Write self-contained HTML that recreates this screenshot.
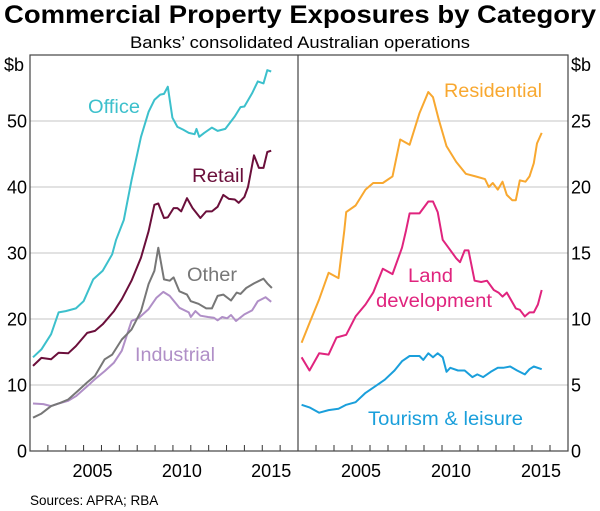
<!DOCTYPE html>
<html><head><meta charset="utf-8"><style>
body{margin:0;background:#fff;}
svg{display:block;font-family:"Liberation Sans",Arial,sans-serif;}
</style></head><body>
<svg id="chart" width="600" height="511" viewBox="0 0 600 511" xmlns="http://www.w3.org/2000/svg">
<text x="300" y="23" text-anchor="middle" font-size="25" font-weight="bold" fill="#000" textLength="592" lengthAdjust="spacingAndGlyphs">Commercial Property Exposures by Category</text>
<text x="300" y="48" text-anchor="middle" font-size="17" fill="#000" textLength="340" lengthAdjust="spacingAndGlyphs">Banks’ consolidated Australian operations</text>
<text x="30" y="505" font-size="13.5" fill="#000">Sources:  APRA; RBA</text>
<g id="grid"></g><g id="series"></g><g id="frame"></g><g id="labels"></g>
</svg>
<script>
const leftTicks=[0,10,20,30,40,50];
const rightTicks=[0,5,10,15,20,25];
const yearLabels=[2005,2010,2015];
const officeYears=[2002.17,2002.64,2003.18,2003.6,2004.0,2004.57,2005.0,2005.54,2006.07,2006.6,2006.82,2007.25,2007.68,2008.21,2008.64,2008.96,2009.29,2009.5,2009.71,2009.97,2010.25,2010.57,2010.89,2011.21,2011.32,2011.47,2011.75,2012.18,2012.5,2012.93,2013.46,2013.78,2014.0,2014.43,2014.75,2015.07,2015.28,2015.5];
const officeValues=[14.2,15.4,17.7,21,21.2,21.6,22.7,26,27.3,29.8,32,35,41,47.6,51.4,53.2,54,54.1,55.2,50.5,49.1,48.7,48.2,48,48.8,47.6,48.2,49,48.5,48.8,50.7,52.1,52.2,54.2,56,55.7,57.7,57.5];
const retailYears=[2002.17,2002.64,2003.18,2003.6,2004.14,2004.57,2005.2,2005.64,2006.07,2006.7,2007.14,2007.68,2008.21,2008.64,2008.96,2009.18,2009.5,2009.71,2010.04,2010.25,2010.46,2010.79,2011.1,2011.54,2011.86,2012.18,2012.5,2012.82,2013.14,2013.46,2013.68,2014.0,2014.2,2014.54,2014.81,2015.07,2015.28,2015.5];
const retailValues=[12.9,14.1,13.9,14.9,14.8,15.9,17.9,18.2,19.2,21.2,23,25.8,29.3,33.3,37.3,37.5,35.3,35.4,36.8,36.8,36.3,38.3,36.8,35.3,36.3,36.3,37,38.8,38.2,38.1,37.6,38.5,40,44.8,42.9,42.9,45.3,45.5];
const otherYears=[2002.17,2002.64,2003.18,2003.7,2004.14,2004.68,2005.2,2005.64,2006.18,2006.6,2007.14,2007.68,2008.21,2008.64,2008.96,2009.18,2009.5,2009.82,2010.04,2010.36,2010.79,2011.0,2011.43,2011.86,2012.18,2012.5,2012.82,2013.25,2013.57,2013.78,2014.1,2014.54,2015.07,2015.28,2015.54];
const otherValues=[5.05,5.66,6.8,7.3,7.8,9.1,10.4,11.4,13.9,14.6,16.9,18.4,21.2,25.3,27.3,30.8,26,25.8,26.3,24.2,23.7,22.7,22.3,21.6,21.6,23.5,23.7,22.8,24,23.8,24.7,25.4,26.1,25.4,24.7];
const industrialYears=[2002.17,2002.75,2003.18,2003.6,2004.14,2004.57,2005.2,2005.64,2006.18,2006.7,2007.14,2007.68,2008.1,2008.64,2009.07,2009.46,2009.82,2010.36,2010.89,2011.0,2011.26,2011.54,2011.96,2012.29,2012.5,2012.76,2013.04,2013.25,2013.53,2014.0,2014.43,2014.75,2015.18,2015.5];
const industrialValues=[7.2,7.1,6.8,7.2,7.6,8.3,9.8,10.9,12.1,13.4,15.2,19.7,20.2,21.5,23.2,24.1,23.5,21.7,21,20.3,21.2,20.5,20.3,20.2,19.8,20.3,20.1,20.6,19.7,20.7,21.3,22.7,23.3,22.6];
const residentialYears=[2002.2,2002.64,2003.18,2003.7,2004.25,2004.57,2004.68,2005.2,2005.75,2006.18,2006.71,2007.25,2007.68,2008.2,2008.75,2009.24,2009.5,2009.82,2010.25,2010.79,2011.32,2011.86,2012.39,2012.6,2012.82,2013.1,2013.36,2013.6,2013.9,2014.1,2014.32,2014.64,2014.86,2015.1,2015.28,2015.54];
const residentialValues=[8.2,9.7,11.5,13.5,13.1,16.7,18.1,18.6,19.8,20.3,20.3,20.8,23.6,23.2,25.6,27.2,26.8,25.1,23.1,21.9,21.0,20.8,20.6,20.0,20.3,19.8,20.4,19.4,19.0,19.0,20.5,20.4,20.8,21.8,23.3,24.1];
const landYears=[2002.2,2002.64,2003.18,2003.7,2004.14,2004.68,2005.2,2005.75,2006.18,2006.71,2007.25,2007.78,2008.0,2008.2,2008.75,2009.24,2009.5,2009.76,2010.04,2010.36,2010.79,2011.0,2011.26,2011.47,2011.81,2012.18,2012.5,2012.88,2013.14,2013.36,2013.6,2014.1,2014.32,2014.6,2014.86,2015.1,2015.33,2015.54];
const landValues=[7.1,6.1,7.4,7.3,8.6,8.8,10.2,11.1,12.0,13.8,13.4,15.4,16.7,18.0,18.0,18.9,18.9,18.1,16.0,15.4,14.6,14.3,15.2,15.2,12.9,12.8,12.9,12.2,12.0,11.7,12.0,10.8,10.7,10.2,10.5,10.5,11.1,12.2];
const tourismYears=[2002.2,2002.64,2003.18,2003.7,2004.25,2004.68,2005.2,2005.75,2006.29,2006.82,2007.36,2007.78,2008.2,2008.75,2008.96,2009.24,2009.5,2009.76,2010.04,2010.25,2010.46,2010.89,2011.26,2011.69,2011.96,2012.29,2012.71,2013.1,2013.4,2013.79,2014.17,2014.6,2014.86,2015.1,2015.54];
const tourismValues=[3.5,3.3,2.9,3.1,3.2,3.5,3.7,4.4,4.9,5.4,6.1,6.8,7.2,7.2,6.9,7.4,7.1,7.4,7.1,6.0,6.3,6.1,6.1,5.6,5.8,5.6,6.0,6.3,6.3,6.4,6.1,5.8,6.2,6.4,6.2];

const NS="http://www.w3.org/2000/svg";
const L0=30,DIV=298,R1=568,TOP=55,BOT=451,Y0=2002,Y1=2017;
function xL(y){return L0+(y-Y0)/(Y1-Y0)*(DIV-L0);}
function xR(y){return DIV+(y-Y0)/(Y1-Y0)*(R1-DIV);}
function yL(v){return BOT-v*6.6;}
function yR(v){return BOT-v*13.2;}
function mk(tag,attrs,parent,txt){const e=document.createElementNS(NS,tag);for(const k in attrs)e.setAttribute(k,attrs[k]);if(txt!==undefined)e.textContent=txt;parent.appendChild(e);return e;}
const grid=document.getElementById('grid'),ser=document.getElementById('series'),frame=document.getElementById('frame'),labs=document.getElementById('labels');

leftTicks.forEach((t,i)=>{
  if(t>0){const g=mk('line',{x1:L0,x2:R1,y1:yL(t),y2:yL(t),stroke:'#c4c4c4','stroke-width':1},grid);
  
  }
  const tl=mk('text',{x:L0-3,y:yL(t)+6.5,'text-anchor':'end','font-size':18,fill:'#000'},labs,String(t));
  
  
});
rightTicks.forEach(t=>{
  const tr=mk('text',{x:R1+3,y:yR(t)+6.5,'font-size':18,fill:'#000'},labs,String(t));
  
  
});
const ul=mk('text',{x:4,y:71,'font-size':18,fill:'#000'},labs,'$b');


const ur=mk('text',{x:571,y:71,'font-size':18,fill:'#000'},labs,'$b');



for(let y=Y0+1;y<Y1;y++){
  [xL(y),xR(y)].forEach(x=>{const tk=mk('line',{x1:x,x2:x,y1:BOT,y2:BOT-6,stroke:'#333','stroke-width':1},frame);
  
  });
}
yearLabels.forEach(y=>{
  [xL(y+0.5),xR(y+0.5)].forEach(x=>{const t=mk('text',{x:x,y:477,'text-anchor':'middle','font-size':18,fill:'#000'},labs,String(y));
  
  });
});
const fr=mk('rect',{x:L0,y:TOP,width:R1-L0,height:BOT-TOP,fill:'none',stroke:'#444','stroke-width':1.2},frame);


const dv=mk('line',{x1:DIV,x2:DIV,y1:TOP,y2:BOT,stroke:'#444','stroke-width':1.2},frame);



function line(ys,vs,xf,yf,color,name){
  const d=ys.map((y,i)=>(i?'L':'M')+xf(y).toFixed(1)+' '+yf(vs[i]).toFixed(1)).join(' ');
  const p=mk('path',{d:d,fill:'none',stroke:color,'stroke-width':2,'stroke-linejoin':'round'},ser);
  
  
}
line(industrialYears,industrialValues,xL,yL,'#b08fc7','industrial-line');
line(otherYears,otherValues,xL,yL,'#777777','other-line');
line(retailYears,retailValues,xL,yL,'#6b0f3b','retail-line');
line(officeYears,officeValues,xL,yL,'#3cc0cc','office-line');
line(tourismYears,tourismValues,xR,yR,'#1a9fdb','tourism-line');
line(landYears,landValues,xR,yR,'#e0247e','land-development-line');
line(residentialYears,residentialValues,xR,yR,'#f8a830','residential-line');

function lab(txt,x,y,w,color,name){const t=mk('text',{x:x,y:y,'font-size':19,fill:color,textLength:w,lengthAdjust:'spacingAndGlyphs'},labs,txt);

}
lab('Office',88,113,52,'#3cc0cc','office-label');
lab('Retail',192,182,52,'#6b0f3b','retail-label');
lab('Other',187,281,50,'#777777','other-label');
lab('Industrial',135,361,80,'#b08fc7','industrial-label');
lab('Residential',444,97,98,'#f8a830','residential-label');
lab('Land',408,282,45,'#e0247e','land-label');
lab('development',376,307,116,'#e0247e','development-label');
lab('Tourism & leisure',368,425,155,'#1a9fdb','tourism-label');
</script>
</body></html>
